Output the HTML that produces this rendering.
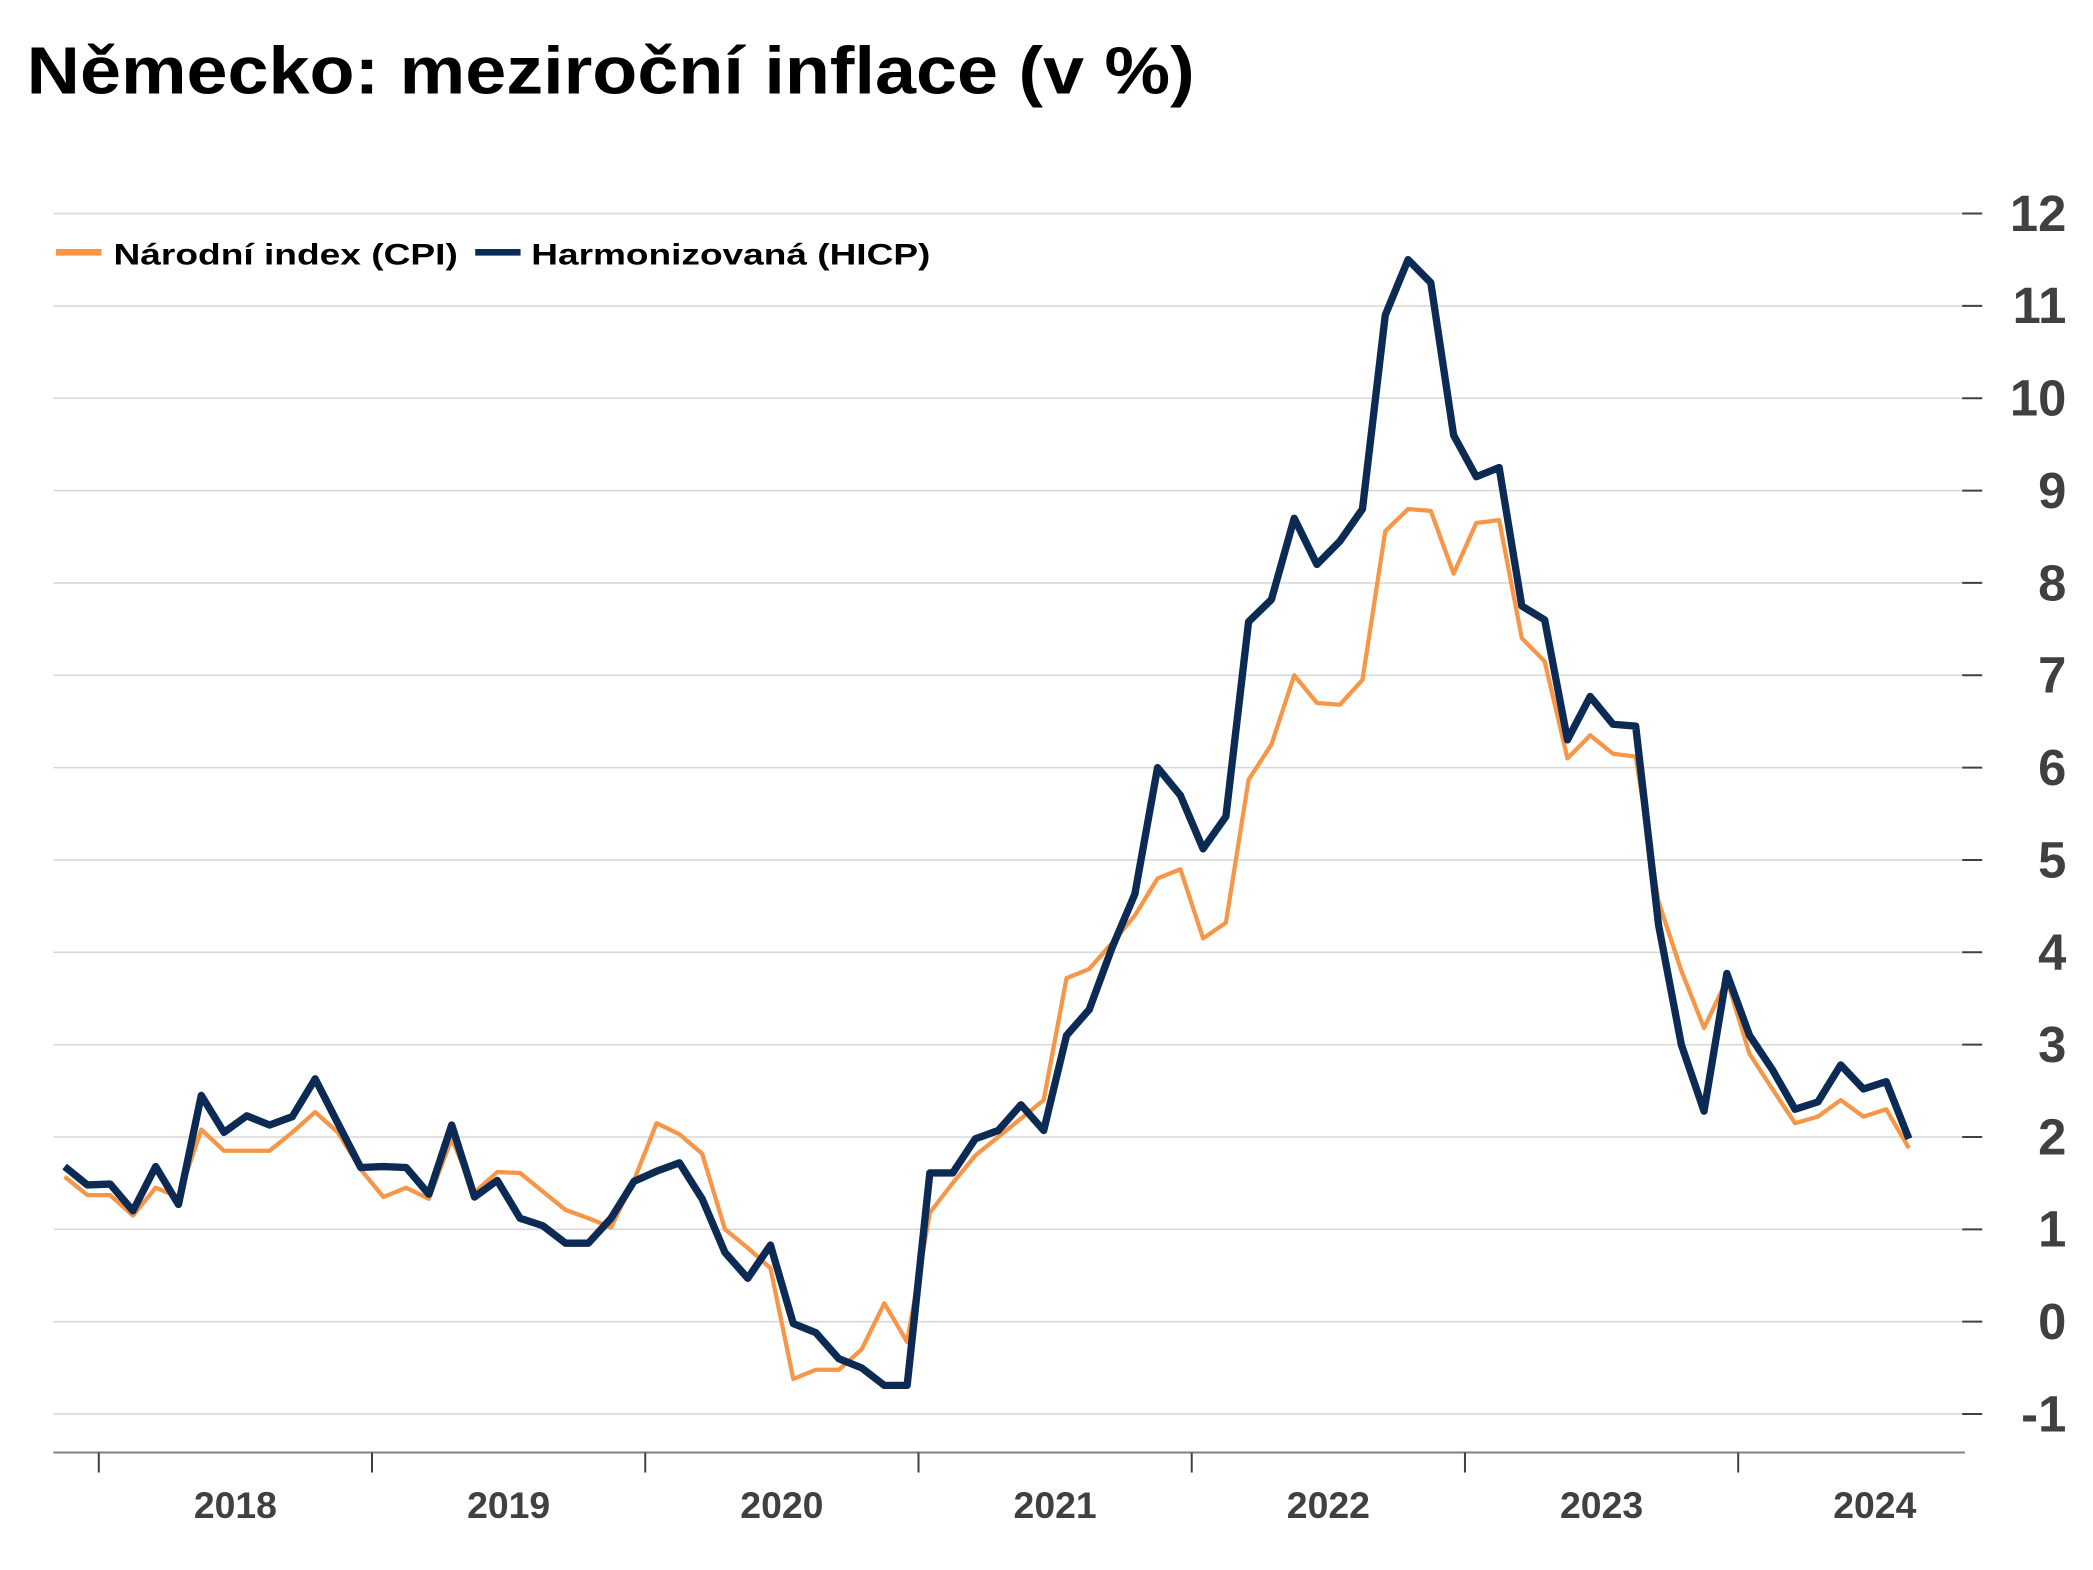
<!DOCTYPE html>
<html><head><meta charset="utf-8"><style>
html,body{margin:0;padding:0;background:#fff;}
svg{display:block;font-family:"Liberation Sans",sans-serif;}
</style></head><body>
<svg id="chart" width="2093" height="1570" viewBox="0 0 1568 1176" preserveAspectRatio="none" xmlns="http://www.w3.org/2000/svg">
<text x="20" y="70" font-size="50" font-weight="bold" fill="#000" textLength="875" lengthAdjust="spacingAndGlyphs">Německo: meziroční inflace (v %)</text>
<g>
<g>
<line x1="42" y1="189" x2="76" y2="189" stroke="#f79646" stroke-width="5"/>
<text x="85" y="198" font-size="22" font-weight="bold" fill="#000" textLength="258" lengthAdjust="spacingAndGlyphs">Národní index (CPI)</text>
</g>
<g>
<line x1="356" y1="189" x2="390" y2="189" stroke="#0b2b55" stroke-width="5"/>
<text x="398" y="198" font-size="22" font-weight="bold" fill="#000" textLength="299" lengthAdjust="spacingAndGlyphs">Harmonizovaná (HICP)</text>
</g>
</g>
<g id="grid"></g>
<g id="yaxis"></g>
<g id="xaxis"></g>
<g id="series"></g>
</svg>
<script>
const yTicks = [-1,0,1,2,3,4,5,6,7,8,9,10,11,12];
const years = ["2018","2019","2020","2021","2022","2023","2024"];
const cpi = [1.57,1.37,1.37,1.15,1.45,1.35,2.08,1.85,1.85,1.85,2.05,2.27,2.05,1.65,1.35,1.45,1.33,1.98,1.4,1.62,1.61,1.41,1.21,1.12,1.02,1.53,2.15,2.03,1.82,1.0,0.8,0.58,-0.62,-0.52,-0.52,-0.3,0.2,-0.22,1.18,1.5,1.8,2.0,2.2,2.4,3.72,3.82,4.1,4.4,4.8,4.9,4.15,4.32,5.87,6.25,7.0,6.7,6.68,6.95,8.56,8.8,8.78,8.1,8.65,8.68,7.4,7.15,6.1,6.35,6.15,6.12,4.55,3.8,3.18,3.7,2.9,2.52,2.15,2.22,2.4,2.22,2.3,1.88];
const hicp = [1.68,1.48,1.49,1.2,1.68,1.27,2.45,2.05,2.23,2.13,2.22,2.63,2.15,1.67,1.68,1.67,1.38,2.13,1.35,1.53,1.12,1.04,0.85,0.85,1.12,1.52,1.63,1.72,1.33,0.75,0.47,0.83,-0.02,-0.12,-0.4,-0.5,-0.69,-0.69,1.61,1.61,1.98,2.07,2.35,2.07,3.1,3.38,4.05,4.63,6.0,5.7,5.12,5.47,7.58,7.82,8.7,8.2,8.45,8.8,10.9,11.5,11.25,9.6,9.15,9.25,7.75,7.6,6.3,6.77,6.47,6.45,4.3,3.0,2.28,3.77,3.1,2.73,2.3,2.38,2.78,2.52,2.6,1.98];
const NS = "http://www.w3.org/2000/svg";
const yScale = v => 990 - v * 69.17;
const monthW = 204.7 / 12;
const yearStartX = k => 74 + k * 204.7;
const xScale = i => 74 + (i - 1.5) * monthW;
function mk(tag, attrs, parent){const e=document.createElementNS(NS,tag);for(const k in attrs)e.setAttribute(k,attrs[k]);parent.appendChild(e);return e;}
const grid=document.getElementById('grid'), yax=document.getElementById('yaxis'), xax=document.getElementById('xaxis'), ser=document.getElementById('series');
yTicks.forEach(v=>{
  const y=yScale(v);
  const g=mk('line',{x1:40,x2:1470,y1:y,y2:y,stroke:'#d9d9d9','stroke-width':1.2},grid);
  
  
  const t=mk('line',{x1:1470,x2:1485,y1:y,y2:y,stroke:'#404040','stroke-width':1.5},yax);
  
  
  const l=mk('text',{x:1548,y:y+13,'text-anchor':'end','font-size':38,'font-weight':'bold',fill:'#404040'},yax);
  l.textContent = v<0 ? '-'+Math.abs(v) : String(v);
  
  
});
const ax=mk('line',{x1:40,x2:1472,y1:1088,y2:1088,stroke:'#808080','stroke-width':1.5},xax);


for(let k=0;k<years.length;k++){
  const x=yearStartX(k);
  const t=mk('line',{x1:x,x2:x,y1:1088,y2:1103,stroke:'#404040','stroke-width':1.5},xax);
  
  
}
years.forEach((yr,k)=>{
  const l=mk('text',{x:yearStartX(k)+102.35,y:1137,'text-anchor':'middle','font-size':28,'font-weight':'bold',fill:'#404040'},xax);
  l.textContent=yr;
  
  
});
function pts(arr){return arr.map((v,i)=>xScale(i).toFixed(1)+','+yScale(v).toFixed(1)).join(' ');}
const pc=mk('polyline',{points:pts(cpi),fill:'none',stroke:'#f79646','stroke-width':3.2,'stroke-linejoin':'round'},ser);


const ph=mk('polyline',{points:pts(hicp),fill:'none',stroke:'#0b2b55','stroke-width':5.5,'stroke-linejoin':'round'},ser);


</script>
</body></html>
